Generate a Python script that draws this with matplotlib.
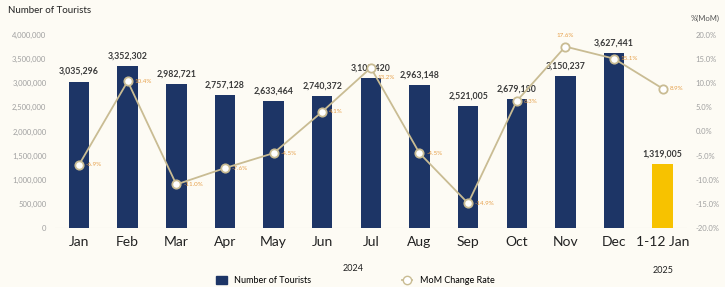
import numpy as np
import matplotlib
matplotlib.use('Agg')
import matplotlib.pyplot as plt
from matplotlib.ticker import FuncFormatter

months = ['Jan', 'Feb', 'Mar', 'Apr', 'May', 'Jun', 'Jul', 'Aug', 'Sep', 'Oct', 'Nov', 'Dec', '1-12 Jan']
tourists = [3035296, 3352302, 2982721, 2757128, 2633464, 2740372, 3103420,
            2963148, 2521005, 2679180, 3150237, 3627441, 1319005]
mom = [-6.9, 10.4, -11.0, -7.6, -4.5, 4.1, 13.2, -4.5, -14.9, 6.3, 17.6, 15.1, 8.9]

bg = '#fdfbf4'
navy = '#1d3566'
gold = '#f7c200'
tan = '#c9bc93'
orange = '#e6a04a'

plt.rcParams['font.family'] = ['Lato', 'DejaVu Sans']

fig = plt.figure(figsize=(7.25, 2.87), dpi=100, facecolor=bg)
ax = fig.add_axes([0.0755, 0.206, 0.872, 0.672])
ax.set_facecolor(bg)
x = np.arange(len(months))
colors = [navy] * 12 + [gold]
ax.bar(x, tourists, width=0.42, color=colors, zorder=2)
ax.set_ylim(0, 4000000)
ax.set_xlim(-0.5, len(months) - 0.5)
ax.set_yticks(np.arange(0, 4000001, 500000))
ax.yaxis.set_major_formatter(FuncFormatter(lambda v, p: f'{int(v):,}'))
ax.tick_params(axis='y', length=0, labelsize=5.5, labelcolor='#a0a0a0', pad=6)
ax.set_xticks(x)
ax.set_xticklabels(months, fontsize=10, color='#222222')
ax.tick_params(axis='x', length=0, pad=6)
for s in ax.spines.values():
    s.set_visible(False)
ax.axhline(0, color='#e0ddd5', lw=0.8, zorder=1)

for xi, v in zip(x, tourists):
    ax.annotate(f'{v:,}', (xi, v), xytext=(0, 4), textcoords='offset points',
                ha='center', va='bottom', fontsize=6.3, fontweight='bold', color='#3a3a3a')

ax2 = ax.twinx()
ax2.set_ylim(-20, 20)
ax2.set_yticks(np.arange(-20, 21, 5))
ax2.yaxis.set_major_formatter(FuncFormatter(lambda v, p: f'{v:.1f}%'))
ax2.tick_params(axis='y', length=0, labelsize=5.5, labelcolor='#a0a0a0', pad=6)
for s in ax2.spines.values():
    s.set_visible(False)
ax2.plot(x, mom, color=tan, lw=1.3, marker='o', markersize=6,
         markerfacecolor='white', markeredgecolor=tan, markeredgewidth=1.3, zorder=3)
for xi, v in zip(x, mom):
    if xi == 10:
        ax2.annotate(f'{v:.1f}%', (xi, v), xytext=(0, 6), textcoords='offset points',
                     ha='center', va='bottom', fontsize=4.5, color=orange)
    elif xi == 6:
        ax2.annotate(f'{v:.1f}%', (xi, v), xytext=(5, -7), textcoords='offset points',
                     ha='left', va='center', fontsize=4.5, color=orange)
    else:
        ax2.annotate(f'{v:.1f}%', (xi, v), xytext=(5, 0), textcoords='offset points',
                     ha='left', va='center', fontsize=4.5, color=orange)

fig.text(0.011, 0.965, 'Number of Tourists', fontsize=7, color='#222222', va='center')
fig.text(0.952, 0.935, '%(MoM)', fontsize=5.5, color='#555555', va='center', ha='left')
fig.text(0.487, 0.065, '2024', fontsize=6.5, color='#222222', ha='center', va='center')
fig.text(0.914, 0.058, '2025', fontsize=6.5, color='#222222', ha='center', va='center')

h1 = plt.Rectangle((0, 0), 1, 1, color=navy)
h2 = plt.Line2D([], [], color=tan, lw=1.3, marker='o', markersize=6,
                markerfacecolor='white', markeredgecolor=tan)
fig.legend([h1, h2], ['Number of Tourists', 'MoM Change Rate'], loc='center',
           bbox_to_anchor=(0.49, 0.022), ncol=2, frameon=False, fontsize=6.5,
           columnspacing=10, handlelength=1.2, handleheight=0.9)

fig.savefig('out.png', dpi=100, facecolor=bg)
